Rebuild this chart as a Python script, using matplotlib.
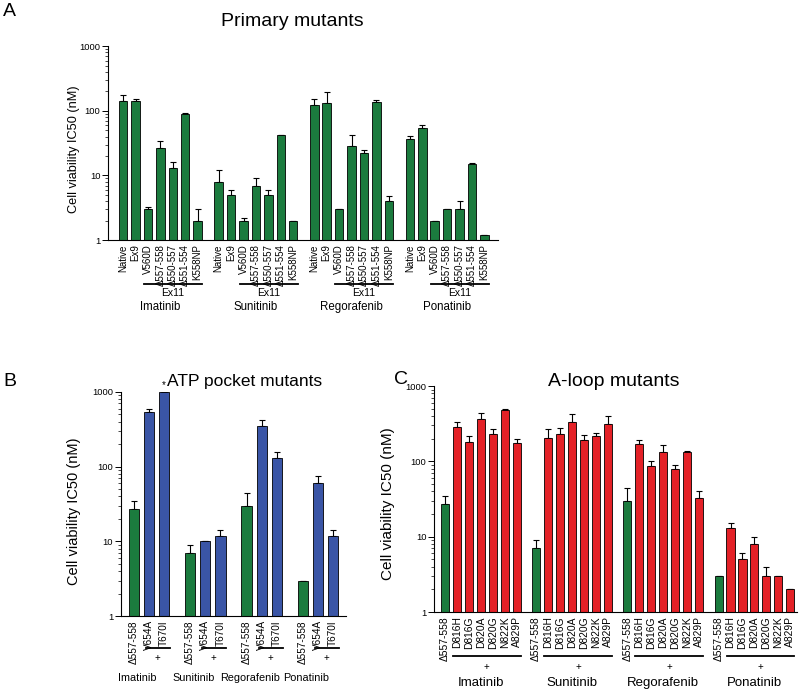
import numpy as np
import matplotlib
matplotlib.use('Agg')
import matplotlib.pyplot as plt

plt.rcParams['font.family'] = ['Liberation Sans', 'DejaVu Sans']

GREEN = '#1b7b3e'
BLUE = '#3a55a6'
RED = '#e42127'

drugs = ['Imatinib', 'Sunitinib', 'Regorafenib', 'Ponatinib']

# Panel A: primary mutants
a_labels = ['Native', 'Ex9', 'V560D', 'Δ557-558', 'Δ550-557', 'Δ551-554', 'K558NP']
a_vals = [
    [141, 141, 3.0, 27, 13, 90, 2],
    [8, 5, 2, 7, 5, 42, 2],
    [125, 134, 3, 29, 22, 138, 4],
    [36.5, 55, 2, 3, 3, 15, 1.2],
]
a_err = [
    [37, 9, 0.2, 7, 3, 2, 1],
    [4, 1, 0.2, 2, 1, 1, 0],
    [25, 61, 0, 14, 2.6, 7, 0.9],
    [5, 5, 0, 0, 1, 0.5, 0],
]

# Panel B: ATP pocket mutants
b_labels = ['Δ557-558', 'V654A', 'T670I']
b_vals = [
    [27, 545, 1000],
    [7, 10, 12],
    [30, 350, 132],
    [3, 60, 12],
]
b_err = [
    [8, 50, 0],
    [2, 0, 2],
    [14, 70, 23],
    [0, 16, 2],
]

# Panel C: A-loop mutants
c_labels = ['Δ557-558', 'D816H', 'D816G', 'D820A', 'D820G', 'N822K', 'A829P']
c_vals = [
    [27, 286, 180, 366, 229, 478, 177],
    [7, 203, 231, 334, 192, 220, 318],
    [30, 172, 88, 134, 79, 132, 33],
    [3, 13, 5, 8, 3, 3, 2],
]
c_err = [
    [8, 48, 37, 74, 36, 19, 23],
    [2, 62, 46, 86, 35, 21, 83],
    [14, 20, 13, 31, 10, 6, 7],
    [0, 2, 1, 2, 1, 0, 0],
]


def bar_panel(ax, labels, vals, errs, colors, step, xlim, tick_fs, ylab_fs):
    xs_all, names = [], []
    for g in range(len(vals)):
        xs = g * step + np.arange(len(labels))
        ax.bar(xs, vals[g], width=0.68, color=colors, edgecolor='black',
               linewidth=0.6, zorder=2)
        lower = np.zeros(len(xs))
        ax.errorbar(xs, vals[g], yerr=[lower, errs[g]], fmt='none',
                    ecolor='black', elinewidth=0.8, capsize=2.2,
                    capthick=0.8, zorder=1)
        xs_all.extend(xs)
        names.extend(labels)
    ax.set_yscale('log')
    ax.set_ylim(1, 1000)
    ax.set_xlim(*xlim)
    ax.set_yticks([1, 10, 100, 1000])
    ax.set_yticklabels(['1', '10', '100', '1000'])
    ax.set_xticks(xs_all)
    ax.set_xticklabels(names, rotation=90, fontsize=tick_fs)
    ax.tick_params(axis='x', length=0, pad=3)
    ax.tick_params(axis='y', which='major', length=4, width=0.7,
                   labelsize=6.8, pad=1.5)
    ax.tick_params(axis='y', which='minor', length=2, width=0.5)
    for s in ['top', 'right']:
        ax.spines[s].set_visible(False)
    ax.spines['left'].set_linewidth(0.8)
    ax.spines['bottom'].set_linewidth(0.8)
    ax.set_ylabel('Cell viability IC50 (nM)', fontsize=ylab_fs)


fig = plt.figure(figsize=(8, 6.9), dpi=100)

# ---- Panel A ----
axA = fig.add_axes([0.135, 0.652, 0.4875, 0.281])
stepA = 7.7
bar_panel(axA, a_labels, a_vals, a_err, GREEN, stepA, (-1.22, 30.2), 7.0, 9.2)
axA.yaxis.set_label_coords(-0.072, 0.47)
trA = axA.get_xaxis_transform()
for g, d in enumerate(drugs):
    x0 = g * stepA
    axA.plot([x0 + 1.7, x0 + 6.35], [-0.227, -0.227], color='black',
             lw=1.3, transform=trA, clip_on=False)
    axA.text(x0 + 4.0, -0.275, 'Ex11', transform=trA, ha='center',
             va='center', fontsize=7.5)
    axA.text(x0 + 3.0, -0.345, d, transform=trA, ha='center',
             va='center', fontsize=8.3)

# ---- Panel B ----
axB = fig.add_axes([0.151, 0.107, 0.281, 0.325])
stepB = 3.73
colorsB = [GREEN, BLUE, BLUE]
bar_panel(axB, b_labels, b_vals, b_err, colorsB, stepB,
          (-0.87, 3 * stepB + 2.83), 7.2, 10.5)
axB.yaxis.set_label_coords(-0.178, 0.47)
trB = axB.get_xaxis_transform()
for g, d in enumerate(drugs):
    x0 = g * stepB
    axB.plot([x0 + 0.8, x0 + 2.4], [-0.143, -0.143], color='black',
             lw=1.3, transform=trB, clip_on=False)
    axB.text(x0 + 1.55, -0.185, '+', transform=trB, ha='center',
             va='center', fontsize=7)
    axB.text(x0 + 0.2, -0.277, d, transform=trB, ha='center',
             va='center', fontsize=7.8)
axB.text(2, 1000 * 1.05, '*', ha='center', va='bottom', fontsize=7)

# ---- Panel C ----
axC = fig.add_axes([0.5425, 0.113, 0.45375, 0.3275])
stepC = 7.64
bar_panel(axC, c_labels, c_vals, c_err, [GREEN] + [RED] * 6, stepC,
          (-0.92, 3 * stepC + 6.57), 7.4, 11)
axC.yaxis.set_label_coords(-0.107, 0.48)
trC = axC.get_xaxis_transform()
for g, d in enumerate(drugs):
    x0 = g * stepC
    axC.plot([x0 + 0.67, x0 + 6.33], [-0.193, -0.193], color='black',
             lw=1.3, transform=trC, clip_on=False)
    axC.text(x0 + 3.5, -0.243, '+', transform=trC, ha='center',
             va='center', fontsize=7)
    axC.text(x0 + 3.0, -0.314, d, transform=trC, ha='center',
             va='center', fontsize=9.5)

# titles and panel letters
fig.text(292 / 800, 1 - 22 / 690, 'Primary mutants', ha='center',
         va='center', fontsize=14)
fig.text(245 / 800, 1 - 382 / 690, 'ATP pocket mutants', ha='center',
         va='center', fontsize=12.5)
fig.text(614 / 800, 1 - 382 / 690, 'A-loop mutants', ha='center',
         va='center', fontsize=14)
fig.text(9 / 800, 1 - 11 / 690, 'A', ha='center', va='center', fontsize=14)
fig.text(10 / 800, 1 - 382 / 690, 'B', ha='center', va='center', fontsize=14)
fig.text(401 / 800, 1 - 380 / 690, 'C', ha='center', va='center', fontsize=14)

fig.savefig('out.png', dpi=100)
